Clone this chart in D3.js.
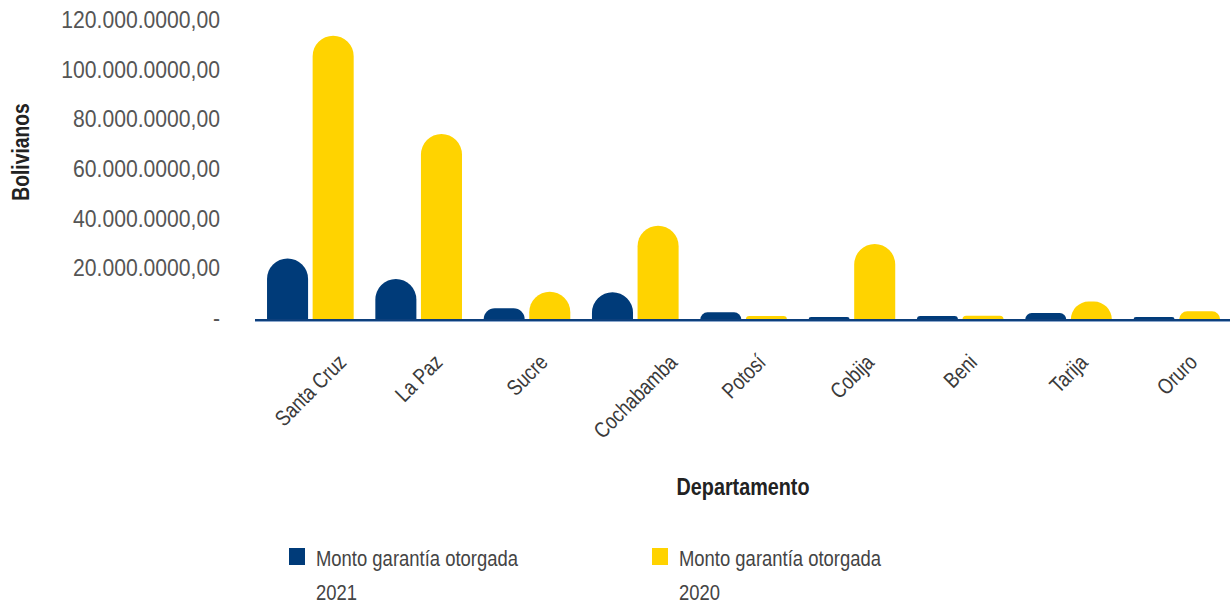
<!DOCTYPE html>
<html>
<head>
<meta charset="utf-8">
<script src="https://cdn.jsdelivr.net/npm/d3@7.9.0/dist/d3.min.js"></script>
<style>
  body { margin: 0; background: #fff; }
  svg { display: block; font-family: "Liberation Sans", Arial, sans-serif; }
</style>
</head>
<body>
<svg id="chart" width="1230" height="607"></svg>
<script>
const departamentos = ['Santa Cruz', 'La Paz', 'Sucre', 'Cochabamba', 'Potosí', 'Cobija', 'Beni', 'Tarija', 'Oruro'];
// millions of bolivianos
const monto2021 = [24.6, 16.3, 4.5, 11.0, 2.9, 1.0, 1.4, 2.6, 1.0];
const monto2020 = [114.3, 74.7, 11.2, 37.8, 1.4, 30.4, 1.5, 7.2, 3.3];
const tickValues = [0, 20, 40, 60, 80, 100, 120];
const tickLabels = ['-', '20.000.0000,00', '40.000.0000,00', '60.000.0000,00', '80.000.0000,00', '100.000.0000,00', '120.000.0000,00'];
const seriesNames = ['Monto garantía otorgada 2021', 'Monto garantía otorgada 2020'];
const colors = ['#003b79', '#ffd300'];

const svg = d3.select('#chart');

const x0 = d3.scaleBand().domain(departamentos).range([256.2, 1231]).paddingInner(0.2).paddingOuter(0.1);
const x1 = d3.scaleBand().domain([0, 1]).range([0, x0.bandwidth()]).paddingInner(0.1);
const y = d3.scaleLinear().domain([0, 120]).range([319.5, 21.5]);

// y tick labels (condensed look: narrow horizontal scale)
svg.append('g').selectAll('text')
  .data(tickValues)
  .join('text')
  .attr('transform', d => `translate(220,${y(d) - 1.5}) scale(0.9,1)`)
  .attr('text-anchor', 'end')
  .attr('dominant-baseline', 'central')
  .attr('font-size', 23.5)
  .attr('fill', '#555')
  .text((d, i) => tickLabels[i]);

// bars with rounded tops
function roundTop(x, yTop, w, yBase) {
  const h = yBase - yTop;
  const r = Math.min(w / 2, h);
  return `M${x},${yBase}L${x},${yTop + r}A${r},${r} 0 0 1 ${x + r},${yTop}` +
    `L${x + w - r},${yTop}A${r},${r} 0 0 1 ${x + w},${yTop + r}L${x + w},${yBase}Z`;
}

const series = [monto2021, monto2020];
const groups = svg.append('g').selectAll('g')
  .data(departamentos)
  .join('g')
  .attr('transform', d => `translate(${x0(d)},0)`);

groups.selectAll('path')
  .data((d, i) => series.map((s, k) => ({ k, v: s[i] })))
  .join('path')
  .attr('d', d => roundTop(x1(d.k), y(d.v), x1.bandwidth(), y(0)))
  .attr('fill', d => colors[d.k]);

// axis line
svg.append('line')
  .attr('x1', 255).attr('x2', 1230)
  .attr('y1', 320).attr('y2', 320)
  .attr('stroke', '#0d3f7c').attr('stroke-width', 2);
svg.append('line')
  .attr('x1', 255).attr('x2', 1230)
  .attr('y1', 321.5).attr('y2', 321.5)
  .attr('stroke', '#8aa6cc').attr('stroke-width', 1);

// rotated category labels, centered on group, tops aligned
const sx = 0.82;
const labels = svg.append('g').selectAll('text')
  .data(departamentos)
  .join('text')
  .attr('font-size', 22)
  .attr('fill', '#3a3a3a')
  .attr('text-anchor', 'middle')
  .attr('dominant-baseline', 'central')
  .text(d => d);

labels.each(function (d) {
  const bb = this.getBBox();
  const ext = (bb.width * sx + bb.height * 0.7) / Math.SQRT2;
  const cx = x0(d) + x0.bandwidth() / 2;
  const cy = 352 + ext / 2;
  d3.select(this).attr('transform', `translate(${cx},${cy}) rotate(-45) scale(${sx},1)`);
});

// axis titles
svg.append('text')
  .attr('transform', 'translate(743,495) scale(0.86,1)')
  .attr('text-anchor', 'middle')
  .attr('font-size', 23)
  .attr('font-weight', 'bold')
  .attr('fill', '#222')
  .text('Departamento');

svg.append('text')
  .attr('transform', 'translate(29,152) rotate(-90) scale(0.84,1)')
  .attr('text-anchor', 'middle')
  .attr('font-size', 23)
  .attr('font-weight', 'bold')
  .attr('fill', '#222')
  .text('Bolivianos');

// legend
const legend = svg.append('g').selectAll('g')
  .data(seriesNames)
  .join('g')
  .attr('transform', (d, i) => `translate(${[289, 652][i]},548)`);

legend.append('rect')
  .attr('width', 16).attr('height', 17)
  .attr('fill', (d, i) => colors[i]);

legend.append('text')
  .attr('transform', 'translate(27,18) scale(0.82,1)')
  .attr('font-size', 22.5)
  .attr('fill', '#444')
  .text(d => d.slice(0, d.lastIndexOf(' ')));

legend.append('text')
  .attr('transform', 'translate(27,52) scale(0.82,1)')
  .attr('font-size', 22.5)
  .attr('fill', '#444')
  .text(d => d.slice(d.lastIndexOf(' ') + 1));
</script>
</body>
</html>
